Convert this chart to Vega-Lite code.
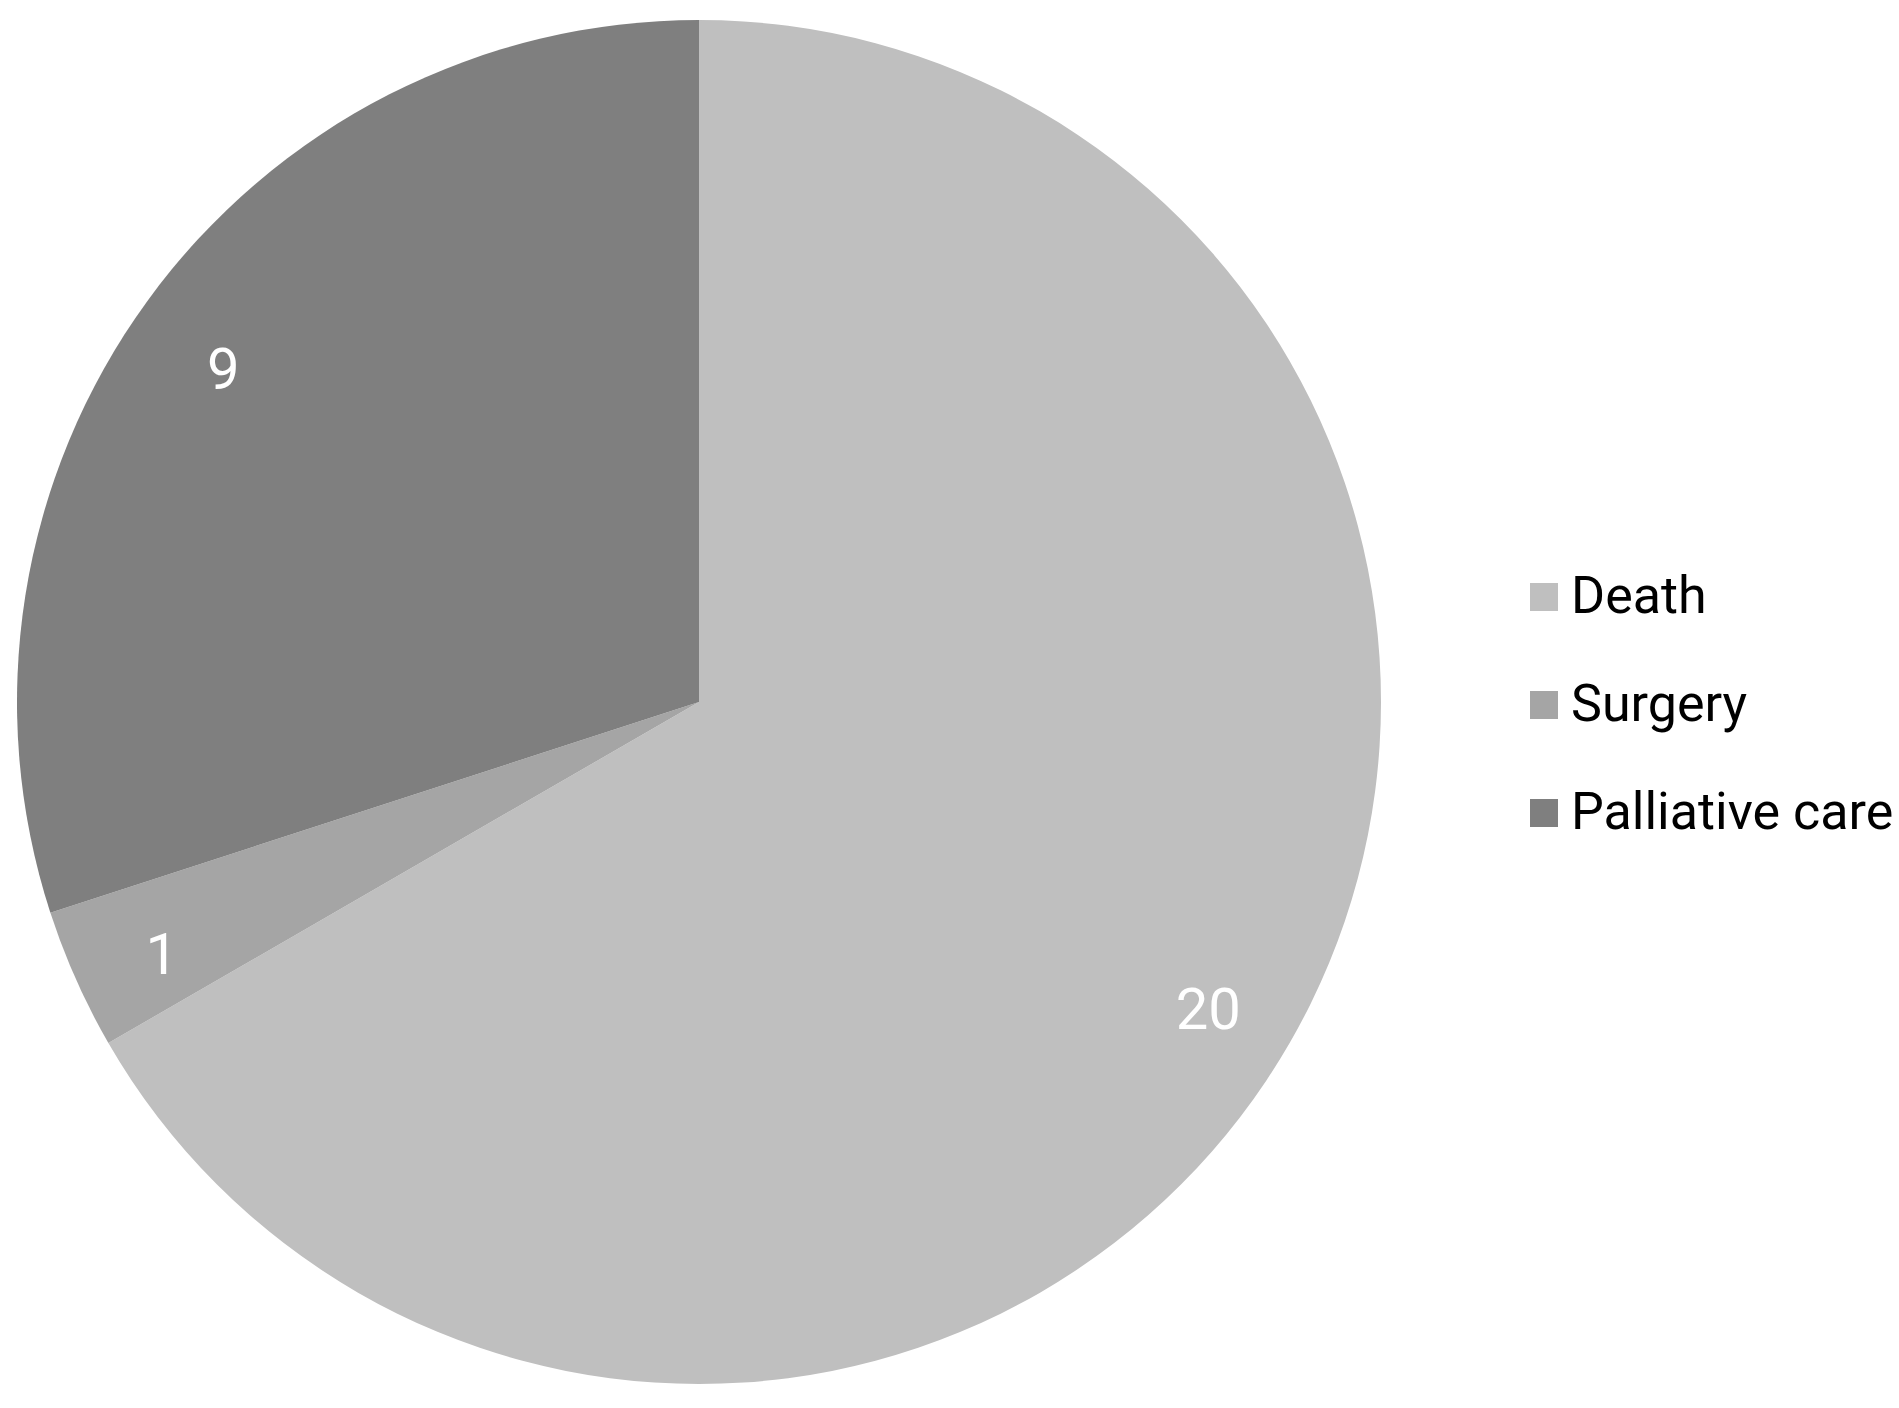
{
  "$schema": "https://vega.github.io/schema/vega-lite/v6.json",
  "width": 1398,
  "height": 1404,
  "padding": 0,
  "background": "white",
  "config": {
    "view": {"stroke": null},
    "font": "Roboto"
  },
  "data": {
    "values": [
      {"outcome": "Death", "n": 20, "rank": 1},
      {"outcome": "Surgery", "n": 1, "rank": 2},
      {"outcome": "Palliative care", "n": 9, "rank": 3}
    ]
  },
  "encoding": {
    "theta": {"field": "n", "type": "quantitative", "stack": true},
    "order": {"field": "rank", "type": "ordinal"}
  },
  "layer": [
    {
      "mark": {"type": "arc", "outerRadius": 682},
      "encoding": {
        "color": {
          "field": "outcome",
          "type": "nominal",
          "scale": {
            "domain": ["Death", "Surgery", "Palliative care"],
            "range": ["#bfbfbf", "#a5a5a5", "#7f7f7f"]
          },
          "legend": {
            "title": null,
            "orient": "none",
            "legendX": 1518,
            "legendY": 571,
            "padding": 0,
            "symbolType": "square",
            "symbolSize": 784,
            "symbolStrokeWidth": 0,
            "labelFont": "Roboto",
            "labelFontSize": 52,
            "labelColor": "black",
            "labelOffset": 1,
            "rowPadding": 56,
            "labelLimit": 0
          }
        }
      }
    },
    {
      "mark": {
        "type": "text",
        "radius": 588,
        "dy": 16,
        "font": "Roboto",
        "fontSize": 58,
        "fill": "white",
        "align": "center",
        "baseline": "middle"
      },
      "encoding": {
        "text": {"field": "n", "type": "quantitative"}
      }
    }
  ]
}
